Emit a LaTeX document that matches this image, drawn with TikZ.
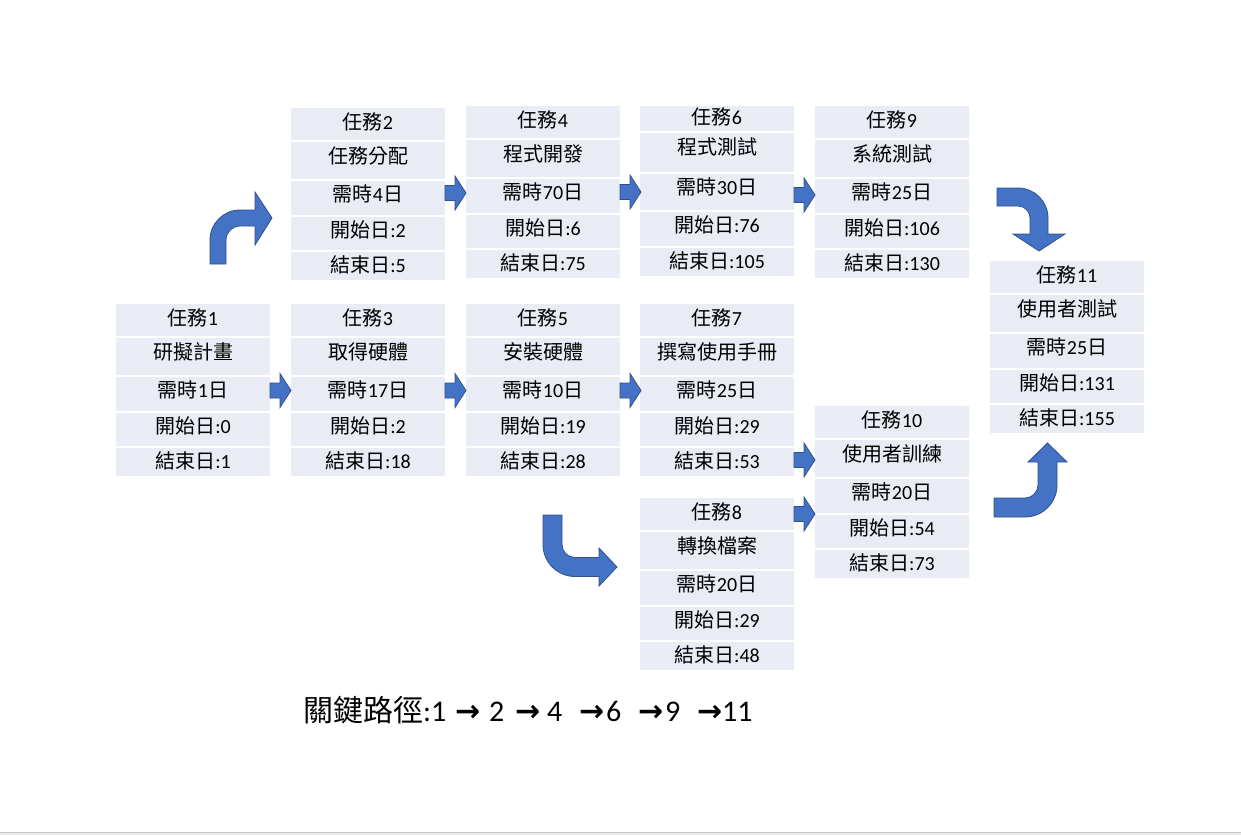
\documentclass[tikz,border=0pt]{standalone}
\usepackage{fontspec}
\setmainfont{Carlito}
\newfontfamily\cjkfont{Noto Sans CJK TC}
\newfontfamily\arrowfont{DejaVu Sans}
\usetikzlibrary{calc}

\definecolor{rowfill}{HTML}{E9EBF5}
\definecolor{arrowfill}{HTML}{4472C4}
\definecolor{arrowline}{HTML}{2F528F}
\definecolor{edgeline}{HTML}{C4C4C4}
\definecolor{edgefill}{HTML}{EDEDED}

\newcommand\zh[1]{{\cjkfont #1}}
\newcommand\cparrow{{\arrowfont\bfseries →}}

\tikzset{
  cell/.style={fill=rowfill, draw=none, minimum width=154pt, inner sep=0pt,
    outer sep=0pt, anchor=north west},
  celltext/.style={anchor=center, inner sep=0pt,
    font=\fontsize{20}{24}\selectfont, text=black},
  blockarrow/.style={fill=arrowfill, draw=arrowline, line width=0.8pt,
    line join=miter},
  rarrow/.pic={\draw[blockarrow] (0,-7.5) -- (10,-7.5) -- (10,-17) -- (21,0)
    -- (10,17) -- (10,7.5) -- (0,7.5) -- cycle;},
  pathtext/.style={anchor=base west, inner sep=0pt,
    font=\fontsize{30}{36}\selectfont},
}

% split a list of five row heights
\def\splitrows#1,#2,#3,#4,#5\relax{%
  \def\rha{#1}\def\rhb{#2}\def\rhc{#3}\def\rhd{#4}\def\rhe{#5}}

% One task card: [row heights] name, left, top, number, title, duration, start, end
\newcommand\taskbox[9][32,37,34,33,28]{%
  \splitrows#1\relax
  \node[cell, minimum height=\rha] (#2a) at (#3,#4) {};
  \node[cell, minimum height=\rhb] (#2b) at (#3,#4+\rha+2) {};
  \node[cell, minimum height=\rhc] (#2c) at (#3,#4+\rha+\rhb+4) {};
  \node[cell, minimum height=\rhd] (#2d) at (#3,#4+\rha+\rhb+\rhc+6) {};
  \node[cell, minimum height=\rhe] (#2e) at (#3,#4+\rha+\rhb+\rhc+\rhd+8) {};
  \node[celltext] (#2at) at ([yshift=-0.42*\rha]#2a.north) {\zh{任務}#5};
  \node[celltext] (#2bt) at ([yshift=-13.5pt]#2b.north) {\zh{#6}};
  \node[celltext] (#2ct) at ([yshift=-13pt]#2c.north) {\zh{需時}#7\zh{日}};
  \node[celltext] (#2dt) at ([yshift=-13pt]#2d.north) {\zh{開始日}:#8};
  \node[celltext] (#2et) at ([yshift=-13pt]#2e.north) {\zh{結束日}:#9};
}

\begin{document}
\begin{tikzpicture}[x=1pt, y=-1pt]
\useasboundingbox (0,0) rectangle (1241,835);
\fill[white] (0,0) rectangle (1241,835);
\fill[edgefill] (0,832.5) rectangle (1241,835);
\draw[edgeline, line width=0.8pt] (0,832.5) -- (1241,832.5);

% task cards
\taskbox{t1}{116}{304}{1}{研擬計畫}{1}{0}{1}
\taskbox{t2}{291}{108}{2}{任務分配}{4}{2}{5}
\taskbox{t3}{291}{304}{3}{取得硬體}{17}{2}{18}
\taskbox{t4}{466}{106}{4}{程式開發}{70}{6}{75}
\taskbox{t5}{466}{304}{5}{安裝硬體}{10}{19}{28}
\taskbox[25,39,36,34,28]{t6}{640}{106}{6}{程式測試}{30}{76}{105}
\taskbox{t7}{640}{304}{7}{撰寫使用手冊}{25}{29}{53}
\taskbox{t8}{640}{498}{8}{轉換檔案}{20}{29}{48}
\taskbox{t9}{815}{106}{9}{系統測試}{25}{106}{130}
\taskbox{t10}{815}{406}{10}{使用者訓練}{20}{54}{73}
\taskbox{t11}{990}{261}{11}{使用者測試}{25}{131}{155}

% straight block arrows between cards
\path (t1c.east) ++(0,-3.5) pic {rarrow};
\path (t3c.east) ++(0,-3.5) pic {rarrow};
\path (t5c.east) ++(0,-3.5) pic {rarrow};
\path (t2c.east) ++(0,-5) pic {rarrow};
\path (t4c.east) ++(0,-4) pic {rarrow};
\path (t6c.east) ++(0,3) pic {rarrow};
\path (t7e.east) ++(0,-2) pic {rarrow};
\path (t8a.east) pic {rarrow};

% bent arrows
\draw[blockarrow] (210,264) -- (210,240) .. controls (210,223.4) and (223.4,210) .. (240,210)
  -- (255,210) -- (255,192) -- (272,218) -- (255,245) -- (255,226) -- (240,226)
  .. controls (232.3,226) and (226,232.3) .. (226,240) -- (226,264) -- cycle;
\draw[blockarrow] (997,188) -- (1018,188) .. controls (1034.6,188) and (1048,201.4) .. (1048,218)
  -- (1048,234) -- (1065,234) -- (1039,251) -- (1013,234) -- (1030,234) -- (1030,218)
  .. controls (1030,211.4) and (1024.6,206) .. (1018,206) -- (997,206) -- cycle;
\draw[blockarrow] (543,515) -- (562,515) -- (562,544.5) .. controls (562,551.7) and (567.8,557.5) .. (575,557.5)
  -- (599,557.5) -- (599,548) -- (617,567) -- (599,586) -- (599,576.5) -- (575,576.5)
  .. controls (557.3,576.5) and (543,562.2) .. (543,544.5) -- cycle;
\draw[blockarrow] (994,498) -- (1025,498) .. controls (1032.2,498) and (1038,492.2) .. (1038,485)
  -- (1038,462) -- (1028,462) -- (1047.5,443) -- (1067,462) -- (1057,462) -- (1057,485)
  .. controls (1057,502.7) and (1042.7,517) .. (1025,517) -- (994,517) -- cycle;

% critical path line
\node[pathtext] (cp) at (303,721) {\zh{關鍵路徑}:1};
\node[pathtext] (cpa1) at (455,721) {\cparrow};
\node[pathtext] (cp2) at (489,721) {2};
\node[pathtext] (cpa2) at (515,721) {\cparrow};
\node[pathtext] (cp4) at (547,721) {4};
\node[pathtext] (cpa3) at (579,721) {\cparrow};
\node[pathtext] (cp6) at (606,721) {6};
\node[pathtext] (cpa4) at (638,721) {\cparrow};
\node[pathtext] (cp9) at (665,721) {9};
\node[pathtext] (cpa5) at (697,721) {\cparrow};
\node[pathtext] (cp11) at (722,721) {11};
\end{tikzpicture}
\end{document}
